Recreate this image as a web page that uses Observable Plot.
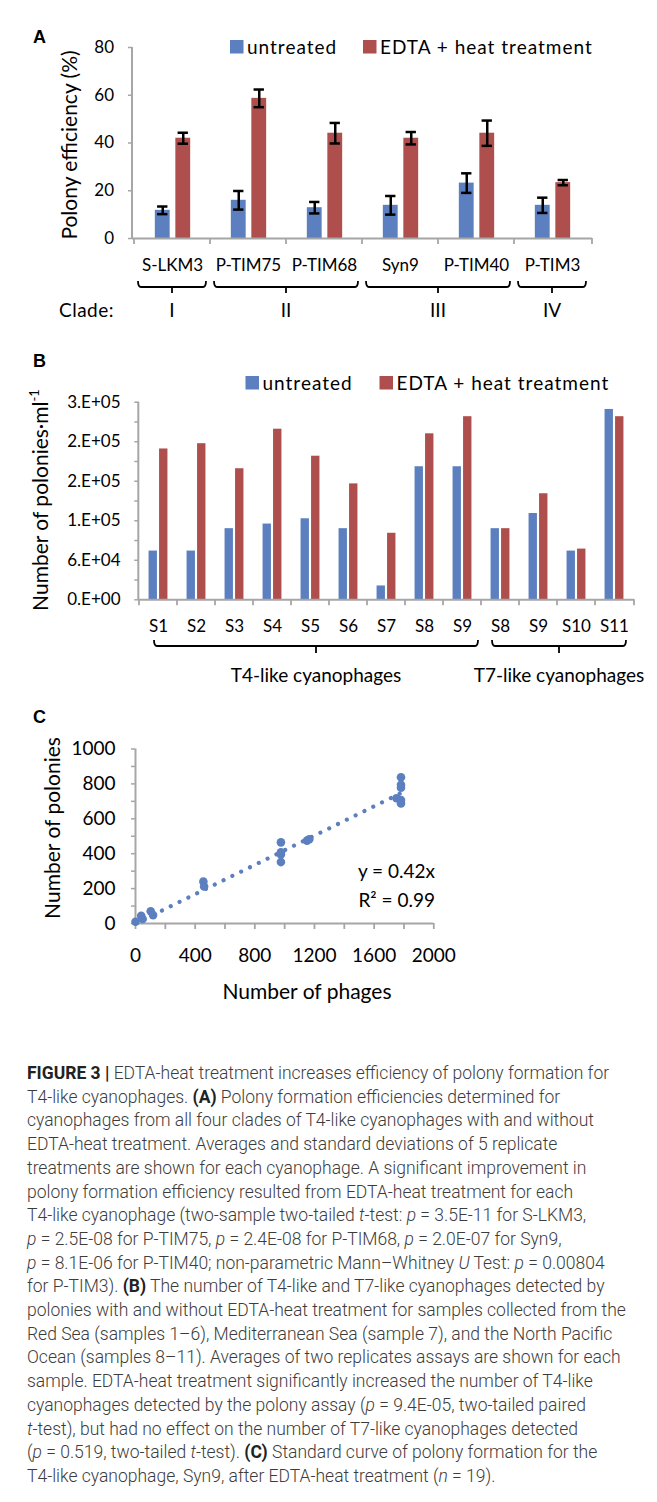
<!DOCTYPE html>
<html>
<head>
<meta charset="utf-8">
<script src="https://cdn.jsdelivr.net/npm/d3@7"></script>
<script src="https://cdn.jsdelivr.net/npm/@observablehq/plot@0.6"></script>
<style>
html,body{margin:0;padding:0;background:#fff;}
#root{position:relative;width:657px;height:1502px;overflow:hidden;background:#fff;}
#root svg{position:absolute;left:0;}
#caption{position:absolute;left:27px;top:1062px;font-family:Roboto,"Liberation Sans",sans-serif;font-weight:300;font-size:17.5px;line-height:23.7px;color:#3c3c3c;white-space:nowrap;}
#caption b{font-weight:700;color:#222;}
</style>
</head>
<body>
<div id="root"></div>
<script>
// ---------------- data ----------------
const series = ["untreated", "EDTA + heat treatment"];
const seriesColors = ["#5B7FBF", "#AE4F4D"];

// Panel A: polony efficiency (%)
const phagesA = ["S-LKM3", "P-TIM75", "P-TIM68", "Syn9", "P-TIM40", "P-TIM3"];
const untreatedA = [11.8, 16.0, 12.9, 13.9, 23.2, 13.9];
const untreatedSdA = [1.6, 3.9, 2.4, 3.9, 4.1, 3.2];
const edtaA = [42.0, 58.7, 44.1, 42.0, 44.1, 23.4];
const edtaSdA = [2.3, 3.7, 4.3, 2.6, 5.3, 1.1];
const yTicksA = [0, 20, 40, 60, 80];
const cladeLabels = ["I", "II", "III", "IV"];
const cladeFirst = ["S-LKM3", "P-TIM75", "Syn9", "P-TIM3"];
const cladeLast = ["S-LKM3", "P-TIM68", "P-TIM40", "P-TIM3"];

// Panel B: number of polonies per ml
const samplesB = ["S1", "S2", "S3", "S4", "S5", "S6", "S7", "S8", "S9", "S8", "S9", "S10", "S11"];
const untreatedB = [74000, 74000, 108000, 115000, 123000, 108000, 21000, 202000, 202000, 108000, 131000, 74000, 289000];
const edtaB = [229000, 237000, 199000, 259000, 218000, 176000, 101000, 252000, 278000, 108000, 161000, 77000, 278000];
const yTicksB = [0, 60000, 120000, 180000, 240000, 300000];
const yTickLabelsB = ["0.E+00", "6.E+04", "1.E+05", "2.E+05", "2.E+05", "3.E+05"];
const yMinorTicksB = [30000, 90000, 150000, 210000, 270000];
const groupLabelsB = ["T4-like cyanophages", "T7-like cyanophages"];
const groupFirstB = [0, 9];
const groupLastB = [8, 12];

// Panel C: standard curve
const phagesC = [0, 38, 48, 102, 118, 455, 460, 975, 975, 975, 975, 1150, 1165, 1750, 1780, 1780, 1780, 1780, 1780];
const poloniesC = [10, 44, 26, 70, 48, 240, 212, 465, 408, 396, 352, 475, 483, 718, 838, 795, 778, 708, 688];
const slopeC = 0.42;
const equationC = ["y = 0.42x", "R² = 0.99"];
const xTicksC = [0, 200, 400, 600, 800, 1000, 1200, 1400, 1600, 1800, 2000];
const xLabelTicksC = [0, 400, 800, 1200, 1600, 2000];
const yTicksC = [0, 200, 400, 600, 800, 1000];
const yMinorTicksC = [100, 300, 500, 700, 900];

// ---------------- helpers ----------------
const W = 657;
const FONT = "Lato, 'Open Sans', sans-serif";
const GRAY = "#A6A6A6";
const root = document.getElementById("root");
const baseStyle = {fontFamily: FONT, fontSize: "17px", color: "#000", background: "transparent", overflow: "visible"};

function place(svg, top) {
  svg.style.top = top + "px";
  root.appendChild(svg);
  return d3.select(svg);
}
function addText(g, x, y, s, o = {}) {
  const t = g.append("text").attr("x", x).attr("y", y).text(s)
    .attr("font-family", o.family || FONT).attr("font-size", o.size || 19).attr("fill", "#000")
    .attr("text-anchor", o.anchor || "start");
  if (o.weight) t.attr("font-weight", o.weight);
  if (o.ls != null) t.attr("letter-spacing", o.ls);
  return t;
}
function addRotated(g, cx, cy, s, size) {
  return g.append("text").attr("transform", `translate(${cx},${cy}) rotate(-90)`)
    .attr("text-anchor", "middle").attr("dy", "0.35em")
    .attr("font-family", FONT).attr("font-size", size).attr("fill", "#000").text(s);
}
function addLegend(g, xs, yTop) {
  series.forEach((s, k) => {
    g.append("rect").attr("x", xs[k]).attr("y", yTop).attr("width", 13.5).attr("height", 13.5).attr("fill", seriesColors[k]);
    addText(g, xs[k] + 17, yTop + 13.5, s, {size: 19, ls: 1});
  });
}
function addBracket(g, x1, x2, y, up, down) {
  const xm = (x1 + x2) / 2;
  g.append("path")
    .attr("d", `M${x1},${y - up}Q${x1},${y} ${x1 + 3},${y}H${x2 - 3}Q${x2},${y} ${x2},${y - up}M${xm},${y}V${y + down}`)
    .attr("fill", "none").attr("stroke", "#000").attr("stroke-width", 1.8).attr("stroke-linejoin", "round");
}
function bandAxisTicks(g, sx, yBase, len) {
  const edges = sx.domain.map(d => sx.apply(d)).concat([sx.range[1]]);
  edges.forEach(x => g.append("line").attr("x1", x).attr("x2", x).attr("y1", yBase).attr("y2", yBase + len)
    .attr("stroke", GRAY).attr("stroke-width", 1.8));
}
function yAxisLine(g, sx, sy, top) {
  const x = sx.range[0];
  g.append("line").attr("x1", x).attr("x2", x).attr("y1", sy.apply(top)).attr("y2", sy.apply(0))
    .attr("stroke", GRAY).attr("stroke-width", 2);
}
// insets that place a bar of width w whose centre is offset o from the band centre
function insets(bw, o, w) {
  const insetLeft = bw / 2 + o - w / 2;
  return {insetLeft, insetRight: bw - insetLeft - w};
}

// ---------------- Panel A ----------------
{
  const m = {top: 47, bottom: 92, left: 132, right: 65}, H = 330;
  const bw = (W - m.left - m.right) / phagesA.length;
  const barW = 15.5, capW = 11;
  const offs = [-9.75, 10.75];
  const rows = [untreatedA, edtaA].map((vals, k) => phagesA.map((p, i) => ({
    phage: p, series: series[k], value: vals[i], sd: [untreatedSdA, edtaSdA][k][i]})));
  const chart = Plot.plot({
    width: W, height: H, marginTop: m.top, marginBottom: m.bottom, marginLeft: m.left, marginRight: m.right,
    style: baseStyle,
    x: {type: "band", domain: phagesA, padding: 0, axis: null},
    y: {domain: [0, 80], axis: null},
    marks: [
      ...rows.map((r, k) => Plot.barY(r, {x: "phage", y: "value", fill: seriesColors[k], ...insets(bw, offs[k], barW)})),
      ...rows.map((r, k) => Plot.ruleX(r, {x: "phage", y1: d => d.value - d.sd, y2: d => d.value + d.sd, dx: offs[k], stroke: "#000", strokeWidth: 2.5})),
      ...rows.map((r, k) => Plot.tickY(r, {x: "phage", y: d => d.value + d.sd, stroke: "#000", strokeWidth: 2.5, ...insets(bw, offs[k], capW)})),
      ...rows.map((r, k) => Plot.tickY(r, {x: "phage", y: d => d.value - d.sd, stroke: "#000", strokeWidth: 2.5, ...insets(bw, offs[k], capW)})),
      Plot.axisY({ticks: yTicksA, tickSize: 4, tickPadding: 14.5, stroke: GRAY, strokeWidth: 1.5, fontSize: 17, label: null}),
      Plot.axisX({tickSize: 0, tickPadding: 20, fontSize: 17, label: null}),
      Plot.ruleY([0], {stroke: GRAY, strokeWidth: 2})
    ]
  });
  const g = place(chart, 0);
  const sx = chart.scale("x"), sy = chart.scale("y");
  yAxisLine(g, sx, sy, 80);
  bandAxisTicks(g, sx, sy.apply(0), 6);
  addText(g, 33, 43, "A", {family: "'Liberation Sans', Arial, sans-serif", size: 18, weight: "bold"});
  addRotated(g, 70, 145, "Polony efficiency (%)", 21);
  addLegend(g, [230, 363], 40);
  cladeLabels.forEach((c, i) => {
    const x1 = sx.apply(cladeFirst[i]) + 4, x2 = sx.apply(cladeLast[i]) + sx.bandwidth - 4;
    addBracket(g, x1, x2, 287, 6, 6);
    addText(g, (x1 + x2) / 2, 317, c, {anchor: "middle", size: 19});
  });
  addText(g, 59, 317, "Clade:", {size: 19, ls: 0.5});
}

// ---------------- Panel B ----------------
{
  const TOP = 330;
  const m = {top: 71.7, bottom: 90.7, left: 138.3, right: 23}, H = 360;
  const keys = samplesB.map((s, i) => i);
  const bw = (W - m.left - m.right) / keys.length;
  const barW = 8.5;
  const offs = [-5.25, 5.25];
  const rows = [untreatedB, edtaB].map((vals, k) => keys.map(i => ({key: i, series: series[k], value: vals[i]})));
  const chart = Plot.plot({
    width: W, height: H, marginTop: m.top, marginBottom: m.bottom, marginLeft: m.left, marginRight: m.right,
    style: baseStyle,
    x: {type: "band", domain: keys, padding: 0, axis: null},
    y: {domain: [0, 300000], axis: null},
    marks: [
      ...rows.map((r, k) => Plot.barY(r, {x: "key", y: "value", fill: seriesColors[k], ...insets(bw, offs[k], barW)})),
      Plot.axisY({ticks: yMinorTicksB, tickSize: 4, tickFormat: () => "", stroke: GRAY, strokeWidth: 1.5, label: null}),
      Plot.axisY({ticks: yTicksB, tickSize: 4, tickPadding: 14.3, tickFormat: d => yTickLabelsB[yTicksB.indexOf(d)], stroke: GRAY, strokeWidth: 1.5, fontSize: 17, label: null}),
      Plot.axisX({tickSize: 0, tickPadding: 20, tickFormat: i => samplesB[i], fontSize: 17, label: null}),
      Plot.ruleY([0], {stroke: GRAY, strokeWidth: 2})
    ]
  });
  const g = place(chart, TOP);
  const sx = chart.scale("x"), sy = chart.scale("y");
  yAxisLine(g, sx, sy, 300000);
  bandAxisTicks(g, sx, sy.apply(0), 6);
  addText(g, 33, 367 - TOP, "B", {family: "'Liberation Sans', Arial, sans-serif", size: 18, weight: "bold"});
  const yl = addRotated(g, 41, 500 - TOP, "Number of polonies·ml", 21);
  yl.append("tspan").attr("font-size", 13).attr("dy", "-0.75em").text("-1");
  addLegend(g, [245.5, 379.5], 376 - TOP);
  const insL = [15, 11], insR = [3, 7];
  groupLabelsB.forEach((lab, i) => {
    const x1 = sx.apply(groupFirstB[i]) + insL[i], x2 = sx.apply(groupLastB[i]) + sx.bandwidth - insR[i];
    addBracket(g, x1, x2, 646 - TOP, 6, 7);
    addText(g, (x1 + x2) / 2, 682 - TOP, lab, {anchor: "middle", size: 19});
  });
}

// ---------------- Panel C ----------------
{
  const TOP = 690;
  const m = {top: 58.5, bottom: 107, left: 135, right: 223.7}, H = 340;
  const rows = phagesC.map((x, i) => ({phages: x, polonies: poloniesC[i]}));
  const xMax = d3.max(phagesC);
  const trend = [{phages: 0, polonies: 0}, {phages: xMax, polonies: slopeC * xMax}];
  const chart = Plot.plot({
    width: W, height: H, marginTop: m.top, marginBottom: m.bottom, marginLeft: m.left, marginRight: m.right,
    style: baseStyle,
    x: {domain: [0, 2000], axis: null},
    y: {domain: [0, 1000], axis: null},
    marks: [
      Plot.axisX({ticks: xTicksC, tickSize: 6, tickFormat: () => "", stroke: GRAY, strokeWidth: 1.8, label: null}),
      Plot.axisX({ticks: xLabelTicksC, tickSize: 0, tickPadding: 25, tickFormat: d => String(d), fontSize: 19, label: null}),
      Plot.axisY({ticks: yMinorTicksC, tickSize: 4, tickFormat: () => "", stroke: GRAY, strokeWidth: 1.5, label: null}),
      Plot.axisY({ticks: yTicksC, tickSize: 4, tickPadding: 16, tickFormat: d => String(d), stroke: GRAY, strokeWidth: 1.5, fontSize: 19, label: null}),
      Plot.ruleY([0], {stroke: GRAY, strokeWidth: 2}),
      Plot.ruleX([0], {stroke: GRAY, strokeWidth: 2}),
      Plot.line(trend, {x: "phages", y: "polonies", stroke: seriesColors[0], strokeWidth: 4.2, strokeDasharray: "0.01 9.8", strokeLinecap: "round"}),
      Plot.dot(rows, {x: "phages", y: "polonies", r: 4.3, fill: seriesColors[0]})
    ]
  });
  const g = place(chart, TOP);
  addText(g, 33, 723 - TOP, "C", {family: "'Liberation Sans', Arial, sans-serif", size: 18, weight: "bold"});
  addRotated(g, 53, 828 - TOP, "Number of polonies", 21);
  addText(g, 307, 999 - TOP, "Number of phages", {anchor: "middle", size: 21});
  addText(g, 435, 878 - TOP, equationC[0], {anchor: "end", size: 19});
  addText(g, 435, 906.5 - TOP, equationC[1], {anchor: "end", size: 19});
}

// ---------------- caption ----------------
const captionLines = [
  "<b>FIGURE 3 |</b> EDTA-heat treatment increases efficiency of polony formation for",
  "T4-like cyanophages. <b>(A)</b> Polony formation efficiencies determined for",
  "cyanophages from all four clades of T4-like cyanophages with and without",
  "EDTA-heat treatment. Averages and standard deviations of 5 replicate",
  "treatments are shown for each cyanophage. A significant improvement in",
  "polony formation efficiency resulted from EDTA-heat treatment for each",
  "T4-like cyanophage (two-sample two-tailed <i>t</i>-test: <i>p</i> = 3.5E-11 for S-LKM3,",
  "<i>p</i> = 2.5E-08 for P-TIM75, <i>p</i> = 2.4E-08 for P-TIM68, <i>p</i> = 2.0E-07 for Syn9,",
  "<i>p</i> = 8.1E-06 for P-TIM40; non-parametric Mann–Whitney <i>U</i> Test: <i>p</i> = 0.00804",
  "for P-TIM3). <b>(B)</b> The number of T4-like and T7-like cyanophages detected by",
  "polonies with and without EDTA-heat treatment for samples collected from the",
  "Red Sea (samples 1–6), Mediterranean Sea (sample 7), and the North Pacific",
  "Ocean (samples 8–11). Averages of two replicates assays are shown for each",
  "sample. EDTA-heat treatment significantly increased the number of T4-like",
  "cyanophages detected by the polony assay (<i>p</i> = 9.4E-05, two-tailed paired",
  "<i>t</i>-test), but had no effect on the number of T7-like cyanophages detected",
  "(<i>p</i> = 0.519, two-tailed <i>t</i>-test). <b>(C)</b> Standard curve of polony formation for the",
  "T4-like cyanophage, Syn9, after EDTA-heat treatment (<i>n</i> = 19)."
];
const cap = document.createElement("div");
cap.id = "caption";
cap.innerHTML = captionLines.map(l => `<div>${l}</div>`).join("");
root.appendChild(cap);
</script>
</body>
</html>
